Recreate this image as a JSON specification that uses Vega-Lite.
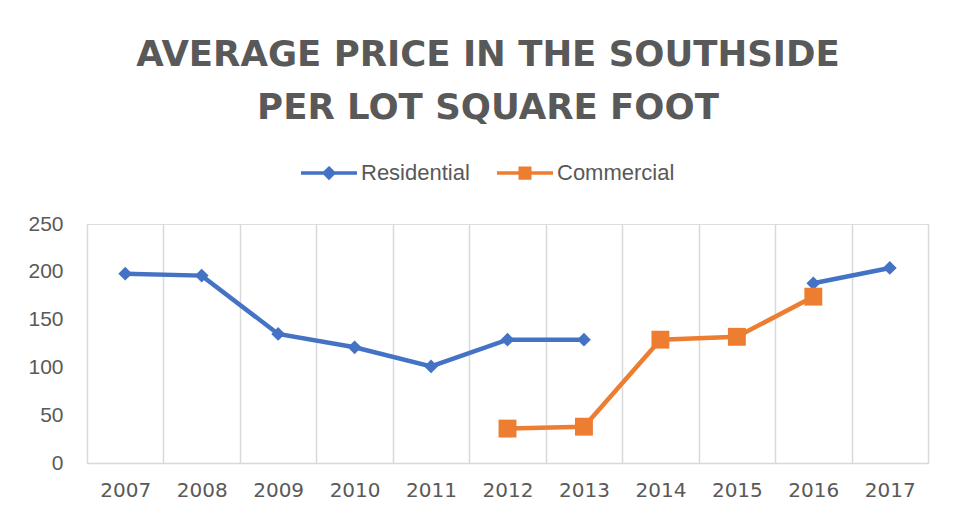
{
  "$schema": "https://vega.github.io/schema/vega-lite/v6.json",
  "width": 841,
  "height": 239,
  "autosize": "none",
  "padding": {"left": 87, "top": 224, "right": 28, "bottom": 53},
  "background": "white",
  "title": {
    "text": ["AVERAGE PRICE IN THE SOUTHSIDE", "PER LOT SQUARE FOOT"],
    "font": "DejaVu Sans",
    "fontSize": 35.5,
    "fontWeight": "bold",
    "color": "#595959",
    "lineHeight": 53,
    "offset": 17,
    "dx": -19.5,
    "anchor": "middle"
  },
  "data": {
    "values": [
      {"year": "2007", "series": "Residential", "value": 198},
      {"year": "2008", "series": "Residential", "value": 196},
      {"year": "2009", "series": "Residential", "value": 135},
      {"year": "2010", "series": "Residential", "value": 121},
      {"year": "2011", "series": "Residential", "value": 101},
      {"year": "2012", "series": "Residential", "value": 129},
      {"year": "2013", "series": "Residential", "value": 129},
      {"year": "2014", "series": "Residential", "value": null},
      {"year": "2015", "series": "Residential", "value": null},
      {"year": "2016", "series": "Residential", "value": 188},
      {"year": "2017", "series": "Residential", "value": 204},
      {"year": "2012", "series": "Commercial", "value": 36},
      {"year": "2013", "series": "Commercial", "value": 38},
      {"year": "2014", "series": "Commercial", "value": 129},
      {"year": "2015", "series": "Commercial", "value": 132},
      {"year": "2016", "series": "Commercial", "value": 174}
    ]
  },
  "encoding": {
    "x": {
      "field": "year",
      "type": "ordinal",
      "bandPosition": 0.5,
      "scale": {"type": "band", "paddingInner": 0, "paddingOuter": 0},
      "axis": {
        "title": null,
        "labelAngle": 0,
        "tickBand": "extent",
        "grid": true,
        "gridColor": "#d9d9d9",
        "gridWidth": 1.5,
        "ticks": false,
        "domainColor": "#d9d9d9",
        "domainWidth": 1.5,
        "labelFont": "DejaVu Sans",
        "labelFontSize": 20,
        "labelColor": "#595959",
        "labelPadding": 17
      }
    },
    "y": {
      "field": "value",
      "type": "quantitative",
      "scale": {"domain": [0, 250]},
      "axis": {
        "title": null,
        "values": [0, 50, 100, 150, 200, 250],
        "domain": false,
        "ticks": false,
        "grid": false,
        "labelFont": "Liberation Sans",
        "labelFontSize": 21,
        "labelColor": "#595959",
        "labelPadding": 24
      }
    },
    "color": {
      "field": "series",
      "type": "nominal",
      "scale": {"domain": ["Residential", "Commercial"], "range": ["#4472C4", "#ED7D31"]},
      "legend": null
    }
  },
  "layer": [
    {
      "mark": {"type": "line", "strokeWidth": 4.5},
      "encoding": {
        "color": {
          "field": "series",
          "type": "nominal",
          "scale": {"domain": ["Residential", "Commercial"], "range": ["#4472C4", "#ED7D31"]},
          "legend": {
            "orient": "none",
            "legendX": 212,
            "legendY": -81,
            "direction": "horizontal",
            "title": null,
            "labelFont": "Liberation Sans",
            "labelFontSize": 22,
            "labelColor": "#595959",
            "symbolSize": 3136,
            "labelOffset": 2,
            "columnPadding": 20,
            "symbolStrokeWidth": 3.5,
            "encode": {
              "symbols": {
                "update": {
                  "shape": {"signal": "datum.value === 'Residential' ? 'M-1,0L1,0M0,-0.17L0.17,0L0,0.17L-0.17,0Z' : 'M-1,0L1,0M-0.17,-0.17L0.17,-0.17L0.17,0.17L-0.17,0.17Z'"},
                  "fill": {"scale": "color", "field": "value"},
                  "stroke": {"scale": "color", "field": "value"},
                  "strokeWidth": {"value": 3.5},
                  "size": {"value": 3136},
                  "opacity": {"value": 1},
                  "fillOpacity": {"value": 1}
                }
              }
            }
          }
        }
      }
    },
    {
      "transform": [{"filter": "datum.series === 'Residential' && isValid(datum.value)"}],
      "mark": {"type": "point", "shape": "diamond", "filled": true, "size": 190, "opacity": 1}
    },
    {
      "transform": [{"filter": "datum.series === 'Commercial'"}],
      "mark": {"type": "point", "shape": "square", "filled": true, "size": 320, "opacity": 1}
    }
  ]
}
